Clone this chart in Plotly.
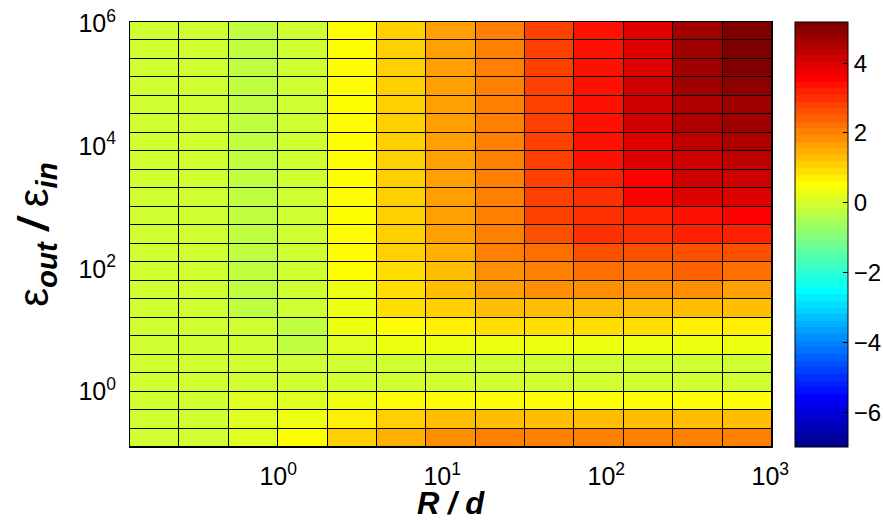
import numpy as np
import plotly.graph_objects as go

# cell edges (R/d along x, eps_out/eps_in along y)
x_edges = [0.125, 0.25, 0.5, 1, 2, 4, 8, 16, 32, 64, 128, 256, 512, 1024]
y_edges = [2.0 ** k for k in range(-3, 21)]

# colour limits and colorbar ticks
z_min = -7.0
z_max = 5.18
cbar_ticks = [-6, -4, -2, 0, 2, 4]

x_tickvals = [1, 10, 100, 1000]
x_ticktext = ["10<sup>0</sup>", "10<sup>1</sup>", "10<sup>2</sup>", "10<sup>3</sup>"]
y_tickvals = [1, 100, 1e4, 1e6]
y_ticktext = ["10<sup>0</sup>", "10<sup>2</sup>", "10<sup>4</sup>", "10<sup>6</sup>"]

# cell values, bottom row first, 13 columns each
z_rows = [
    [-0.05, -0.05, 0.14, 0.52, 1.09, 1.47, 1.85, 2.04, 2.04, 2.04, 2.04, 2.04, 2.04],
    [-0.05, -0.05, 0.14, 0.33, 0.71, 1.09, 1.28, 1.28, 1.28, 1.28, 1.28, 1.28, 1.28],
    [-0.05, -0.05, 0.14, 0.14, 0.33, 0.52, 0.52, 0.52, 0.52, 0.52, 0.52, 0.52, 0.52],
    [-0.05, -0.05, -0.05, -0.05, -0.05, -0.05, -0.05, -0.05, -0.05, -0.05, -0.05, -0.05, -0.05],
    [-0.05, -0.05, -0.05, -0.05, -0.05, -0.05, -0.05, -0.05, -0.05, -0.05, -0.05, -0.05, -0.05],
    [-0.05, -0.05, -0.05, -0.24, 0.14, 0.33, 0.33, 0.33, 0.33, 0.33, 0.33, 0.33, 0.33],
    [-0.05, -0.05, -0.05, -0.24, 0.33, 0.52, 0.71, 0.90, 0.90, 0.90, 0.90, 0.71, 0.71],
    [-0.05, -0.05, -0.24, -0.05, 0.33, 0.90, 1.09, 1.28, 1.28, 1.28, 1.28, 1.28, 1.28],
    [-0.05, -0.05, -0.24, -0.05, 0.33, 0.90, 1.28, 1.66, 1.85, 1.85, 1.85, 1.85, 1.66],
    [-0.05, -0.05, -0.24, -0.05, 0.52, 0.90, 1.28, 1.85, 2.04, 2.23, 2.23, 2.42, 2.23],
    [-0.05, -0.05, -0.24, -0.05, 0.52, 1.09, 1.47, 2.04, 2.23, 2.61, 2.61, 2.61, 2.61],
    [-0.05, -0.05, -0.24, -0.05, 0.52, 1.09, 1.66, 2.04, 2.61, 2.99, 2.99, 3.18, 3.18],
    [-0.05, -0.05, -0.24, -0.05, 0.52, 1.09, 1.66, 2.04, 2.80, 2.99, 3.18, 3.37, 3.56],
    [-0.05, -0.05, -0.24, -0.05, 0.52, 1.09, 1.66, 2.04, 2.80, 2.99, 3.56, 3.94, 3.94],
    [-0.05, -0.05, -0.24, -0.05, 0.52, 1.09, 1.66, 2.04, 2.80, 3.18, 3.56, 4.13, 4.13],
    [-0.05, -0.05, -0.24, -0.05, 0.52, 1.09, 1.66, 2.04, 2.80, 3.37, 3.94, 4.13, 4.32],
    [-0.05, -0.05, -0.24, -0.05, 0.52, 1.09, 1.66, 2.04, 2.80, 3.37, 3.94, 4.32, 4.51],
    [-0.05, -0.05, -0.24, -0.05, 0.52, 1.09, 1.66, 2.04, 2.80, 3.37, 4.13, 4.51, 4.70],
    [-0.05, -0.05, -0.24, -0.05, 0.52, 1.09, 1.66, 2.04, 2.80, 3.37, 4.13, 4.51, 4.70],
    [-0.05, -0.05, -0.24, -0.05, 0.52, 1.09, 1.66, 2.04, 2.80, 3.37, 4.13, 4.70, 4.89],
    [-0.05, -0.05, -0.24, -0.05, 0.52, 1.09, 1.66, 2.04, 2.80, 3.37, 3.94, 4.70, 5.08],
    [-0.05, -0.05, -0.24, -0.05, 0.52, 1.09, 1.66, 2.04, 2.80, 3.37, 3.94, 4.70, 5.08],
    [-0.05, -0.05, -0.24, -0.05, 0.52, 1.09, 1.66, 2.04, 2.80, 3.37, 3.94, 4.70, 5.08],
]


def jet(m=64):
    n = int(np.ceil(m / 4))
    u = np.concatenate([np.arange(1, n + 1) / n, np.ones(n - 1), np.arange(n, 0, -1) / n])
    g = int(np.ceil(n / 2)) - (1 if m % 4 == 1 else 0) + np.arange(1, len(u) + 1)
    r = g + n
    b = g - n
    J = np.zeros((m, 3))
    gm = g[g <= m]
    J[gm - 1, 1] = u[:len(gm)]
    rm = r[r <= m]
    J[rm - 1, 0] = u[:len(rm)]
    bm = b[b > 0]
    J[bm - 1, 2] = u[len(u) - len(bm):]
    return J


J = jet(64)
colorscale = []
for i, c in enumerate(J):
    col = "rgb(%d,%d,%d)" % tuple(int(round(v * 255)) for v in c)
    colorscale.append([i / 64, col])
    colorscale.append([(i + 1) / 64, col])

FONT = "Liberation Sans, Arial, Helvetica, sans-serif"

W, H = 883, 520
ML, MR, MT, MB = 130, 111, 22, 73
PH = H - MT - MB

fig = go.Figure(
    go.Heatmap(
        x=x_edges,
        y=y_edges,
        z=z_rows,
        zmin=z_min,
        zmax=z_max,
        colorscale=colorscale,
        xgap=1,
        ygap=1,
        hoverongaps=False,
        colorbar=dict(
            x=(795 - ML) / (W - ML - MR),
            xanchor="left",
            y=0.5,
            yanchor="middle",
            len=1,
            lenmode="fraction",
            thickness=53,
            thicknessmode="pixels",
            xpad=0,
            ypad=0,
            outlinecolor="black",
            outlinewidth=1,
            ticks="inside",
            ticklen=5,
            tickcolor="black",
            tickvals=cbar_ticks,
            ticklabeloverflow="allow",
            tickfont=dict(size=24, color="black", family=FONT),
        ),
    )
)

fig.update_layout(
    width=W,
    height=H,
    margin=dict(l=ML, r=MR, t=MT, b=MB, autoexpand=False),
    paper_bgcolor="white",
    plot_bgcolor="black",
    font=dict(family=FONT, color="black"),
    xaxis=dict(
        type="log",
        automargin=False,
        range=[np.log10(x_edges[0]), np.log10(x_edges[-1])],
        tickvals=x_tickvals,
        ticktext=x_ticktext,
        tickfont=dict(size=25),
        ticks="",
        ticklabelstandoff=7,
        ticklabeloverflow="allow",
        showgrid=False,
        zeroline=False,
        showline=True,
        linecolor="black",
        linewidth=1,
        mirror=True,
    ),
    yaxis=dict(
        type="log",
        automargin=False,
        range=[np.log10(y_edges[0]), np.log10(y_edges[-1])],
        tickvals=y_tickvals,
        ticktext=y_ticktext,
        tickfont=dict(size=25),
        ticks="",
        ticklabelstandoff=8,
        ticklabeloverflow="allow",
        showgrid=False,
        zeroline=False,
        showline=True,
        linecolor="black",
        linewidth=1,
        mirror=True,
        title=dict(
            text="ε<sub><b><i>out</i></b></sub><b><i>\u00a0/\u00a0</i></b>ε<sub><b><i>in</i></b></sub>",
            font=dict(size=42),
            standoff=16,
        ),
    ),
    annotations=[
        dict(
            text="<b><i>R / d</i></b>",
            xref="paper",
            yref="paper",
            x=0.5,
            y=-(504 - (MT + PH)) / PH,
            xanchor="center",
            yanchor="middle",
            showarrow=False,
            font=dict(size=31, family=FONT, color="black"),
        )
    ],
)

fig.write_html(
    "out.html",
    config={"displayModeBar": False},
    post_script="document.body.style.margin='0px';document.body.style.overflow='hidden';",
)
